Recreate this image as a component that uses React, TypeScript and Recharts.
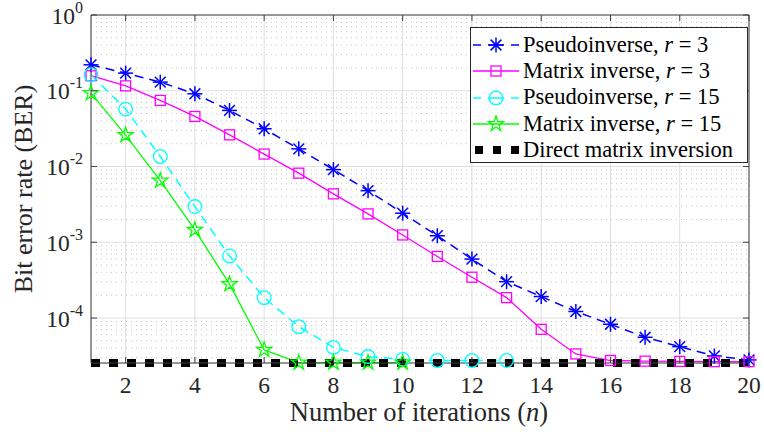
import React from 'react';
import { LineChart, Line, XAxis, YAxis, CartesianGrid, ReferenceLine, Legend } from 'recharts';

// BER vs number of iterations n (log scale)
const iterations = [1, 2, 3, 4, 5, 6, 7, 8, 9, 10, 11, 12, 13, 14, 15, 16, 17, 18, 19, 20];
const pinvR3 = [0.22, 0.171, 0.13, 0.0912, 0.055, 0.0315, 0.0171, 0.0091, 0.0048, 0.00242, 0.00122, 0.0006, 0.000302, 0.000192, 0.000122, 0.0000828, 0.0000557, 0.0000419, 0.0000316, 0.000028];
const invR3 = [0.158, 0.116, 0.0745, 0.0458, 0.0262, 0.0146, 0.00817, 0.00436, 0.00237, 0.00125, 0.00065, 0.000346, 0.000186, 0.000071, 0.0000336, 0.0000275, 0.000027, 0.0000268, 0.0000266, 0.0000266];
const pinvR15 = [0.163, 0.0573, 0.01355, 0.00296, 0.00066, 0.000186, 0.000077, 0.000041, 0.000031, 0.0000285, 0.0000275, 0.0000275, 0.0000275];
const invR15 = [0.093, 0.026, 0.0065, 0.00146, 0.00028, 0.000038, 0.0000258, 0.0000258, 0.0000258, 0.0000258];
const directBer = [2.55e-5, 2.55e-5, 2.55e-5, 2.55e-5, 2.55e-5, 2.55e-5, 2.55e-5, 2.55e-5, 2.55e-5, 2.55e-5, 2.55e-5, 2.55e-5, 2.55e-5, 2.55e-5, 2.55e-5, 2.55e-5, 2.55e-5, 2.55e-5, 2.55e-5, 2.55e-5];

const xTicks = [2, 4, 6, 8, 10, 12, 14, 16, 18, 20];
const yTicks = [1e-4, 1e-3, 1e-2, 1e-1, 1];
const yDomain = [2.55e-5, 1];

const data = iterations.map((n, i) => ({
  n,
  pinv3: pinvR3[i],
  inv3: invR3[i],
  pinv15: i < pinvR15.length ? pinvR15[i] : null,
  inv15: i < invR15.length ? invR15[i] : null,
  direct: directBer[i],
}));

// minor grid lines of the log axis (2..9 x 10^k)
const minorLines: number[] = [];
for (let e = -5; e < 0; e++) {
  for (let k = 2; k <= 9; k++) {
    const v = k * Math.pow(10, e);
    if (v > yDomain[0] && v < yDomain[1]) minorLines.push(v);
  }
}

const FONT = '"Liberation Serif", "Times New Roman", serif';
const AXIS = '#404040';
const TEXT = '#262626';
const PLOT_TOP = 15;
const PLOT_BOTTOM = 363;
const PLOT_LEFT = 91;
const PLOT_RIGHT = 749;

const BLUE = '#0000ff';
const MAGENTA = '#ff00ff';
const CYAN = '#00ffff';
const GREEN = '#00ff00';

const Asterisk = ({ cx, cy, color }: any) => {
  const r = 7.5;
  const d = r * 0.72;
  return (
    <g stroke={color} strokeWidth={1.5}>
      <line x1={cx - r} x2={cx + r} y1={cy} y2={cy} />
      <line x1={cx} x2={cx} y1={cy - r} y2={cy + r} />
      <line x1={cx - d} x2={cx + d} y1={cy - d} y2={cy + d} />
      <line x1={cx - d} x2={cx + d} y1={cy + d} y2={cy - d} />
    </g>
  );
};

const Square = ({ cx, cy, color }: any) => (
  <rect x={cx - 5} y={cy - 5} width={10} height={10} fill="none" stroke={color} strokeWidth={1.3} />
);

const Circle = ({ cx, cy, color }: any) => (
  <circle cx={cx} cy={cy} r={6.8} fill="none" stroke={color} strokeWidth={1.3} />
);

const Star = ({ cx, cy, color }: any) => {
  const R = 8;
  const ri = R * 0.382;
  const pts: string[] = [];
  for (let i = 0; i < 10; i++) {
    const rad = i % 2 === 0 ? R : ri;
    const a = -Math.PI / 2 + (i * Math.PI) / 5;
    pts.push(`${cx + rad * Math.cos(a)},${cy + rad * Math.sin(a)}`);
  }
  return <polygon points={pts.join(' ')} fill="none" stroke={color} strokeWidth={1.3} />;
};

const makeDot = (Shape: any, color: string) => (p: any) => {
  if (p.cx == null || p.cy == null || p.value == null) return <g key={p.index} />;
  return <Shape key={p.index} cx={p.cx} cy={p.cy} color={color} />;
};

const XTick = ({ x, payload }: any) => (
  <g>
    <line x1={x} x2={x} y1={PLOT_BOTTOM} y2={PLOT_BOTTOM - 6} stroke={AXIS} />
    <line x1={x} x2={x} y1={PLOT_TOP} y2={PLOT_TOP + 6} stroke={AXIS} />
    <text x={x} y={PLOT_BOTTOM + 30} textAnchor="middle" fontSize={23.5} fill={TEXT} fontFamily={FONT}>
      {payload.value}
    </text>
  </g>
);

const YTick = ({ y, payload }: any) => {
  const exp = Math.round(Math.log10(payload.value));
  return (
    <g>
      <line x1={PLOT_LEFT} x2={PLOT_LEFT + 6} y1={y} y2={y} stroke={AXIS} />
      <line x1={PLOT_RIGHT} x2={PLOT_RIGHT - 6} y1={y} y2={y} stroke={AXIS} />
      <text x={83} y={y + 8.5} textAnchor="end" fontSize={23.5} fill={TEXT} fontFamily={FONT}>
        10
        <tspan dy={-11} fontSize={16}>{exp === 0 ? '0' : `-${Math.abs(exp)}`}</tspan>
      </text>
    </g>
  );
};

const legendItems = [
  { label: 'Pseudoinverse, ', r: '3', color: BLUE, Shape: Asterisk, dash: '8 7 16 7 8' },
  { label: 'Matrix inverse, ', r: '3', color: MAGENTA, Shape: Square, dash: undefined },
  { label: 'Pseudoinverse, ', r: '15', color: CYAN, Shape: Circle, dash: '8 7 16 7 8' },
  { label: 'Matrix inverse, ', r: '15', color: GREEN, Shape: Star, dash: undefined },
];

const LegendBox = () => (
  <div
    style={{
      border: `1px solid ${TEXT}`,
      background: '#fff',
      width: 276,
      height: 130,
      paddingTop: 4,
      fontFamily: FONT,
      fontSize: 22.5,
      color: '#000',
    }}
  >
    {legendItems.map((it, i) => (
      <div key={i} style={{ display: 'flex', alignItems: 'center', height: 26.3 }}>
        <svg width={52} height={26} style={{ flex: 'none' }}>
          <line x1={2} x2={48} y1={13} y2={13} stroke={it.color} strokeWidth={1.5} strokeDasharray={it.dash} />
          <it.Shape cx={25} cy={13} color={it.color} />
        </svg>
        <span style={{ whiteSpace: 'nowrap', lineHeight: 1 }}>
          {it.label}
          <i>r</i> = {it.r}
        </span>
      </div>
    ))}
    <div style={{ display: 'flex', alignItems: 'center', height: 26.3 }}>
      <svg width={52} height={26} style={{ flex: 'none' }}>
        <line x1={4} x2={50} y1={13} y2={13} stroke="#000" strokeWidth={8} strokeDasharray="8 10" />
      </svg>
      <span style={{ whiteSpace: 'nowrap', lineHeight: 1 }}>Direct matrix inversion</span>
    </div>
  </div>
);

const YLabel = () => (
  <text
    x={0}
    y={0}
    transform="translate(23 189) rotate(-90)"
    textAnchor="middle"
    dominantBaseline="central"
    fontSize={26}
    fill={TEXT}
    fontFamily={FONT}
  >
    Bit error rate (BER)
  </text>
);

const XLabel = () => (
  <text x={419} y={421} textAnchor="middle" fontSize={26.5} fill={TEXT} fontFamily={FONT}>
    Number of iterations (<tspan fontStyle="italic">n</tspan>)
  </text>
);

export default function App() {
  return (
    <div style={{ width: 764, height: 435, background: '#fff' }}>
      <style>{'body{margin:0;}'}</style>
      <LineChart width={764} height={435} data={data} margin={{ top: 15, right: 15, bottom: 22, left: 11 }}>
        <CartesianGrid stroke="#dfdfdf" strokeWidth={1} />
        {minorLines.map((v) => (
          <ReferenceLine key={v} y={v} stroke="#c4c4c4" strokeDasharray="1 4" ifOverflow="hidden" />
        ))}
        <XAxis
          dataKey="n"
          type="number"
          domain={[1, 20]}
          ticks={xTicks}
          tickLine={false}
          tick={<XTick />}
          axisLine={{ stroke: AXIS }}
          height={50}
          label={<XLabel />}
        />
        <YAxis
          type="number"
          scale="log"
          domain={yDomain}
          ticks={yTicks}
          tickLine={false}
          tick={<YTick />}
          axisLine={{ stroke: AXIS }}
          width={80}
          label={<YLabel />}
        />
        <ReferenceLine y={1} stroke={AXIS} />
        <ReferenceLine x={20} stroke={AXIS} />
        <Line type="linear" dataKey="pinv3" stroke={BLUE} strokeWidth={1.5} strokeDasharray="9 6" dot={makeDot(Asterisk, BLUE)} isAnimationActive={false} legendType="none" />
        <Line type="linear" dataKey="inv3" stroke={MAGENTA} strokeWidth={1.3} dot={makeDot(Square, MAGENTA)} isAnimationActive={false} legendType="none" />
        <Line type="linear" dataKey="pinv15" stroke={CYAN} strokeWidth={1.5} strokeDasharray="9 6" dot={makeDot(Circle, CYAN)} isAnimationActive={false} legendType="none" />
        <Line type="linear" dataKey="inv15" stroke={GREEN} strokeWidth={1.3} dot={makeDot(Star, GREEN)} isAnimationActive={false} legendType="none" />
        <Line type="linear" dataKey="direct" stroke="#000" strokeWidth={8} strokeDasharray="9 9" dot={false} isAnimationActive={false} legendType="none" />
        <Legend
          layout="vertical"
          align="center"
          verticalAlign="middle"
          content={<LegendBox />}
          wrapperStyle={{ position: 'absolute', left: 470, top: 27, width: 278, height: 136 }}
        />
      </LineChart>
    </div>
  );
}
